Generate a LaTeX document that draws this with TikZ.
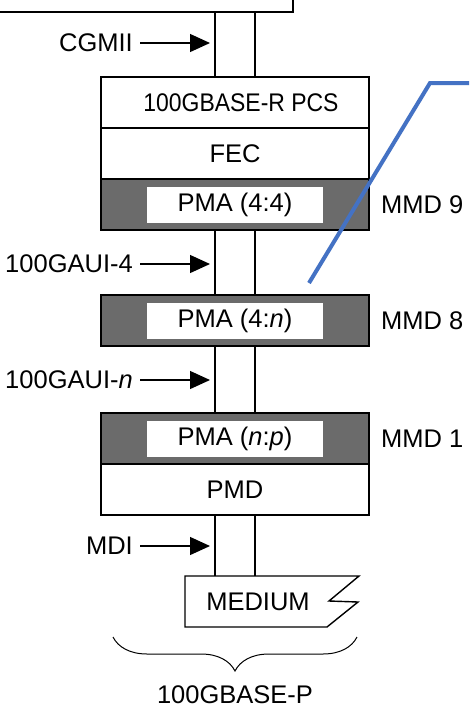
\documentclass[tikz,border=0pt]{standalone}
\usepackage{fontspec}
\usepackage{graphicx}
\setmainfont{Liberation Sans}
\usetikzlibrary{positioning,arrows.meta,decorations.pathreplacing}
\definecolor{callblue}{HTML}{4472C4}

\begin{document}
\begin{tikzpicture}[x=1pt,y=-1pt,
  node distance=0pt,
  every node/.style={font=\fontsize{25.5}{30}\selectfont},
  layer/.style={draw,line width=1.4pt,minimum width=268pt,minimum height=51pt,inner sep=0pt,outer sep=0pt},
  sublayer/.style={layer,fill=black!58},
  inset/.style={fill=white,minimum width=176pt,minimum height=36pt,inner sep=0pt},
  iface/.style={anchor=east,inner sep=0pt},
  mmd/.style={inner sep=0pt},
  rail/.style={line width=1.3pt},
  feed/.style={-{Triangle[length=20pt,width=18pt]},line width=1.3pt},
  callout/.style={draw=callblue,line width=4pt},
  >=stealth
]
\fill[white,use as bounding box] (0,0) rectangle (469,710);

% upper layers (only the bottom edge is seen)
\node[draw,line width=1.4pt,minimum width=340pt,minimum height=60pt,anchor=south east,outer sep=0pt] (mac) at (293,12) {};

\node[layer] (pcs) at (235,102.5) {\hspace{12pt}\scalebox{0.9}[1]{100GBASE-R PCS}};
\node[layer,below=of pcs] (fec) {FEC};
\node[sublayer,below=of fec] (pma9) {};
\node[inset] (pma9txt) at (pma9) {PMA (4:4)};
\node[sublayer,below=65pt of pma9] (pma8) {};
\node[inset] (pma8txt) at (pma8) {PMA (4:\textit{n})};
\node[sublayer,below=67pt of pma8] (pma1) {};
\node[inset] (pma1txt) at (pma1) {PMA (\textit{n}:\textit{p})};
\node[layer,below=of pma1] (pmd) {PMD};
\node[minimum width=146pt,minimum height=51pt,inner sep=0pt,outer sep=0pt,below=61pt of pmd,xshift=23pt] (medium) {MEDIUM};

% MMD numbers
\node[mmd,right=12pt of pma9] (mmd9) {MMD 9};
\node[mmd,right=12pt of pma8] (mmd8) {MMD 8};
\node[mmd,right=12pt of pma1] (mmd1) {MMD 1};

% interfaces
\node[iface] (cgmii) at (133,43) {CGMII};
\node[iface] (gaui4) at (133,264) {100GAUI-4};
\node[iface] (gauin) at (133,380) {100GAUI-\textit{n}};
\node[iface] (mdi) at (133,546) {MDI};

\foreach \up/\dn in {mac/pcs,pma9/pma8,pma8/pma1,pmd/medium}
  \foreach \dx in {-20,20}
    \draw[rail] ([xshift=\dx]pcs.center |- \up.south) -- ([xshift=\dx]pcs.center |- \dn.north);

\foreach \i in {cgmii,gaui4,gauin,mdi}
  \draw[feed] ([xshift=7pt]\i.east) -- ([xshift=-25pt]\i.east -| pcs.center);

% medium outline
\draw[line width=1.4pt] (medium.north west) -- ++(174,0) -- ++(-30,25) -- ++(29,1) -- ++(-31,25) -- (medium.south west) -- cycle;

% brace
\coordinate (bl) at (113,637);
\coordinate (br) at (357,637);
\draw[line width=1pt,decorate,decoration={brace,mirror,amplitude=34pt}] (bl) -- (br);
\node (phy) at (235,695) {100GBASE-P};

% callout line
\coordinate (tail) at (309,283);
\coordinate (bend) at (430,83);
\coordinate (edge) at (469,83);
\draw[callout] (tail) -- (bend) -- (edge);
\end{tikzpicture}
\end{document}
